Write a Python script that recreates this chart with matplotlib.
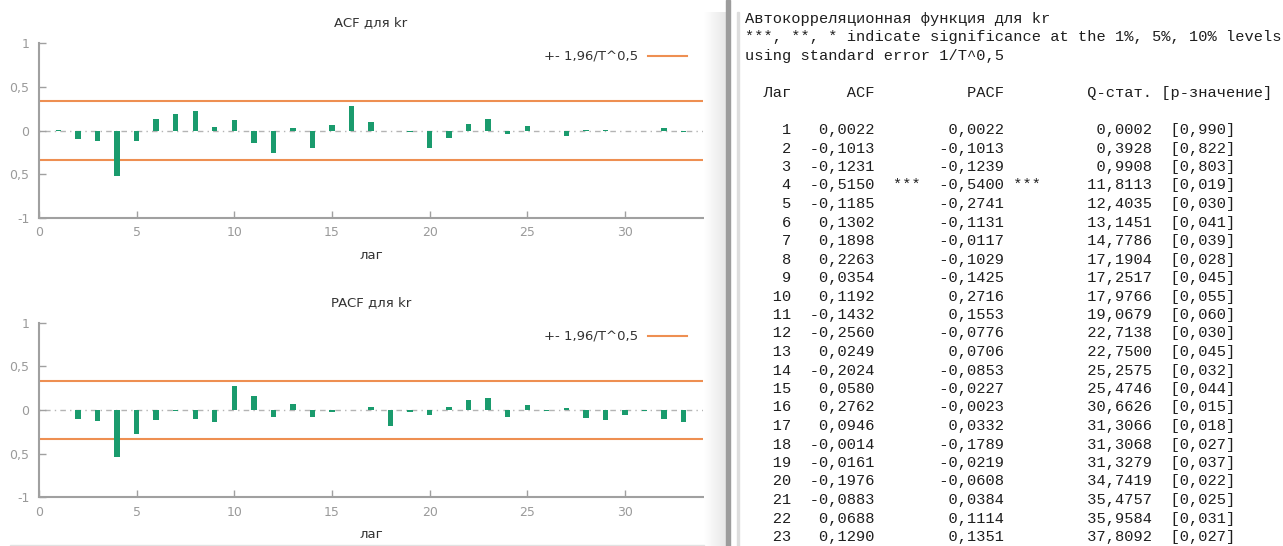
import numpy as np
import matplotlib.pyplot as plt
from matplotlib.patches import Rectangle
from matplotlib.colors import LinearSegmentedColormap

W, H = 1283, 546

# данные: ACF / PACF для kr (лаги 1..23 из таблицы, 24..33 оценены по графику)
lags = list(range(1, 34))
acf = [0.0022, -0.1013, -0.1231, -0.5150, -0.1185, 0.1302, 0.1898, 0.2263,
       0.0354, 0.1192, -0.1432, -0.2560, 0.0249, -0.2024, 0.0580, 0.2762,
       0.0946, -0.0014, -0.0161, -0.1976, -0.0883, 0.0688, 0.1290,
       -0.040, 0.050, -0.010, -0.065, 0.010, 0.008, -0.005, -0.010, 0.025, -0.015]
pacf = [0.0022, -0.1013, -0.1239, -0.5400, -0.2741, -0.1131, -0.0117, -0.1029,
        -0.1425, 0.2716, 0.1553, -0.0776, 0.0706, -0.0853, -0.0227, -0.0023,
        0.0332, -0.1789, -0.0219, -0.0608, 0.0384, 0.1114, 0.1351,
        -0.085, 0.060, -0.010, 0.025, -0.090, -0.120, -0.055, -0.010, -0.105, -0.135]
q_stat = [0.0002, 0.3928, 0.9908, 11.8113, 12.4035, 13.1451, 14.7786, 17.1904,
          17.2517, 17.9766, 19.0679, 22.7138, 22.7500, 25.2575, 25.4746, 30.6626,
          31.3066, 31.3068, 31.3279, 34.7419, 35.4757, 35.9584, 37.8092]
p_val = [0.990, 0.822, 0.803, 0.019, 0.030, 0.041, 0.039, 0.028, 0.045, 0.055,
         0.060, 0.030, 0.045, 0.032, 0.044, 0.015, 0.018, 0.027, 0.037, 0.022,
         0.025, 0.031, 0.027]
acf_stars = {4: "***"}
pacf_stars = {4: "***"}
band = 0.336  # +- 1,96/T^0,5

y_ticks = [-1, -0.5, 0, 0.5, 1]
y_labels = ["-1", "0,5", "0", "0,5", "1"]
x_ticks = [0, 5, 10, 15, 20, 25, 30]

GREEN = "#1a9b6d"
ORANGE = "#ee8f52"
GREY = "#a0a0a0"


def fx(x):
    return x / W


def fy(y):
    return 1 - y / H


def draw_corr(ax, vals, title):
    ax.axhline(0, color="#b4b4b4", lw=1, ls=(0, (1, 3, 4, 3)), zorder=1)
    ax.bar(lags, vals, width=0.28, color=GREEN, zorder=3)
    ax.axhline(band, color=ORANGE, lw=1.5, zorder=2, label="+- 1,96/T^0,5")
    ax.axhline(-band, color=ORANGE, lw=1.5, zorder=2)
    ax.set_xlim(0, 34)
    ax.set_ylim(-1, 1)
    ax.set_xticks(x_ticks)
    ax.set_yticks(y_ticks)
    ax.set_yticklabels(y_labels)
    for s in ["top", "right"]:
        ax.spines[s].set_visible(False)
    for s in ["left", "bottom"]:
        ax.spines[s].set_color(GREY)
        ax.spines[s].set_linewidth(1.5)
    ax.tick_params(direction="in", length=5, width=1, color=GREY,
                   labelcolor="#9a9a9a", labelsize=9)
    ax.tick_params(axis="y", pad=7)
    ax.tick_params(axis="x", pad=6)
    ax.set_title(title, fontsize=9.5, color="#333333", pad=12)
    ax.set_xlabel("лаг", fontsize=9.5, color="#333333")
    ax.xaxis.label.set_va("baseline")
    ax.xaxis.set_label_coords(0.5, -0.232)
    leg = ax.legend(loc="center right", bbox_to_anchor=(0.976, 0.92),
                    frameon=False, markerfirst=False, fontsize=9.5,
                    handlelength=2.95, handletextpad=0.75,
                    borderpad=0, borderaxespad=0)
    for t in leg.get_texts():
        t.set_color("#333333")


fig = plt.figure(figsize=(W / 100, H / 100), dpi=100)
fig.patch.set_facecolor("white")

ax1 = fig.add_axes([fx(39), fy(218), (703 - 39) / W, 175 / H])
draw_corr(ax1, acf, "ACF для kr")

ax2 = fig.add_axes([fx(39), fy(497.3), (703 - 39) / W, 174.6 / H])
draw_corr(ax2, pacf, "PACF для kr")

# разделитель окон
gax = fig.add_axes([fx(704), 0, (726 - 704) / W, fy(12)])
gax.imshow(np.linspace(0, 1, 60)[None, :], aspect="auto",
           cmap=LinearSegmentedColormap.from_list("g", ["#ffffff", "#e6e6e6"]))
gax.axis("off")
fig.patches.append(Rectangle((fx(726), 0), 4 / W, 1, transform=fig.transFigure,
                             color="#9c9c9c", zorder=5))
fig.patches.append(Rectangle((fx(737), 0), 2 / W, fy(12), transform=fig.transFigure,
                             color="#dddddd", zorder=5))
fig.patches.append(Rectangle((fx(10), 0), (704 - 10) / W, 1.5 / H,
                             transform=fig.transFigure, color="#e2e2e2", zorder=5))


# текстовое окно
def num(v, fmt):
    return format(v, fmt).replace(".", ",")


def stars(d, k):
    return " " + d[k] if k in d else "    "


lines = [
    "Автокорреляционная функция для kr",
    "***, **, * indicate significance at the 1%, 5%, 10% levels",
    "using standard error 1/T^0,5",
    "",
    "  Лаг      ACF          PACF         Q-стат. [p-значение]",
    "",
]
for i in range(len(q_stat)):
    k = lags[i]
    lines.append(num(k, "5d") + num(acf[i], "9.4f") + " " + stars(acf_stars, k)
                 + num(pacf[i], "9.4f") + stars(pacf_stars, k)
                 + num(q_stat[i], "12.4f") + "  [" + num(p_val[i], "5.3f") + "]")

for j, line in enumerate(lines):
    yc = 18.5 + j * 18.5
    fig.text(fx(745), fy(yc + 4.5), line, family="Liberation Mono",
             fontsize=11.05, va="baseline", ha="left", color="#1e1e1e")

fig.savefig("out.png", dpi=100, facecolor="white")
